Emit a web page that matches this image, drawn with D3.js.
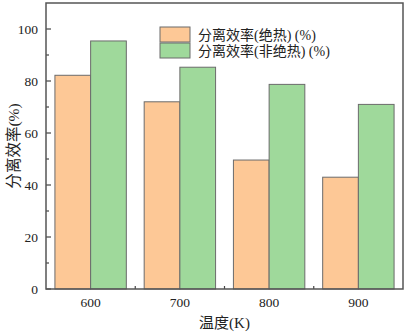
<!DOCTYPE html>
<html>
<head>
<meta charset="utf-8">
<script src="https://cdn.jsdelivr.net/npm/d3@7"></script>
<style>
  body { margin: 0; background: #fff; }
  text { font-family: "Liberation Serif", "Noto Sans CJK SC", serif; fill: #222; }
</style>
</head>
<body>
<div id="chart"></div>
<script>
const temps = [600, 700, 800, 900];
const adiabatic = [82.2, 72.0, 49.6, 43.0];
const nonAdiabatic = [95.4, 85.3, 78.7, 71.0];
const seriesNames = ["分离效率(绝热) (%)", "分离效率(非绝热) (%)"];
const yTicks = [0, 20, 40, 60, 80, 100];

const width = 407, height = 335;
const margin = { top: 3, right: 4, bottom: 46, left: 46 };

const svg = d3.select("#chart").append("svg")
  .attr("width", width)
  .attr("height", height);

const x = d3.scaleLinear().domain([550, 950]).range([margin.left, width - margin.right]);
const y = d3.scaleLinear().domain([0, 110]).range([height - margin.bottom, margin.top]);

const barW = x(640) - x(600);
const colors = ["#fdc896", "#9fd99b"];

const g = svg.append("g");

// bars
[adiabatic, nonAdiabatic].forEach((vals, si) => {
  g.selectAll(".bar" + si)
    .data(temps)
    .enter()
    .append("rect")
    .attr("x", (d) => si === 0 ? x(d) - barW : x(d))
    .attr("y", (d, i) => y(vals[i]))
    .attr("width", barW)
    .attr("height", (d, i) => y(0) - y(vals[i]))
    .attr("fill", colors[si])
    .attr("stroke", "#6b6b6b")
    .attr("stroke-width", 1);
});

// y axis ticks (inward)
const yMinor = d3.range(10, 110, 20);
svg.append("g").selectAll("line.ymaj").data(yTicks).enter().append("line")
  .attr("x1", x(550)).attr("x2", x(550) + 5)
  .attr("y1", d => y(d)).attr("y2", d => y(d))
  .attr("stroke", "#444").attr("stroke-width", 1.2);
svg.append("g").selectAll("line.ymin").data(yMinor).enter().append("line")
  .attr("x1", x(550)).attr("x2", x(550) + 3)
  .attr("y1", d => y(d)).attr("y2", d => y(d))
  .attr("stroke", "#444").attr("stroke-width", 1.2);
svg.append("g").selectAll("text").data(yTicks).enter().append("text")
  .attr("x", x(550) - 8)
  .attr("y", d => y(d) + 4.5)
  .attr("text-anchor", "end")
  .attr("font-size", 13.5)
  .text(d => d);

// x axis ticks
const xMinor = [650, 750, 850];
svg.append("g").selectAll("line").data(xMinor).enter().append("line")
  .attr("x1", d => x(d)).attr("x2", d => x(d))
  .attr("y1", y(0)).attr("y2", y(0) - 3)
  .attr("stroke", "#444").attr("stroke-width", 1.2);
svg.append("g").selectAll("text").data(temps).enter().append("text")
  .attr("x", d => x(d))
  .attr("y", y(0) + 18)
  .attr("text-anchor", "middle")
  .attr("font-size", 13.5)
  .text(d => d);

// frame
svg.append("rect")
  .attr("x", x(550)).attr("y", y(110))
  .attr("width", x(950) - x(550))
  .attr("height", y(0) - y(110))
  .attr("fill", "none")
  .attr("stroke", "#555")
  .attr("stroke-width", 1.5);

// axis titles
svg.append("text")
  .attr("x", (x(550) + x(950)) / 2)
  .attr("y", height - 7)
  .attr("text-anchor", "middle")
  .attr("font-size", 15)
  .text("温度(K)");

svg.append("text")
  .attr("transform", `translate(19, ${(y(0) + y(110)) / 2}) rotate(-90)`)
  .attr("text-anchor", "middle")
  .attr("font-size", 15.5)
  .text("分离效率(%)");

// legend
const legend = svg.append("g").attr("transform", "translate(160, 27)");
seriesNames.forEach((name, i) => {
  legend.append("rect")
    .attr("x", 0).attr("y", i * 16)
    .attr("width", 30).attr("height", 15)
    .attr("fill", colors[i])
    .attr("stroke", "#6b6b6b");
  legend.append("text")
    .attr("x", 38).attr("y", i * 16 + 12.5)
    .attr("font-size", 14)
    .text(name);
});
</script>
</body>
</html>
